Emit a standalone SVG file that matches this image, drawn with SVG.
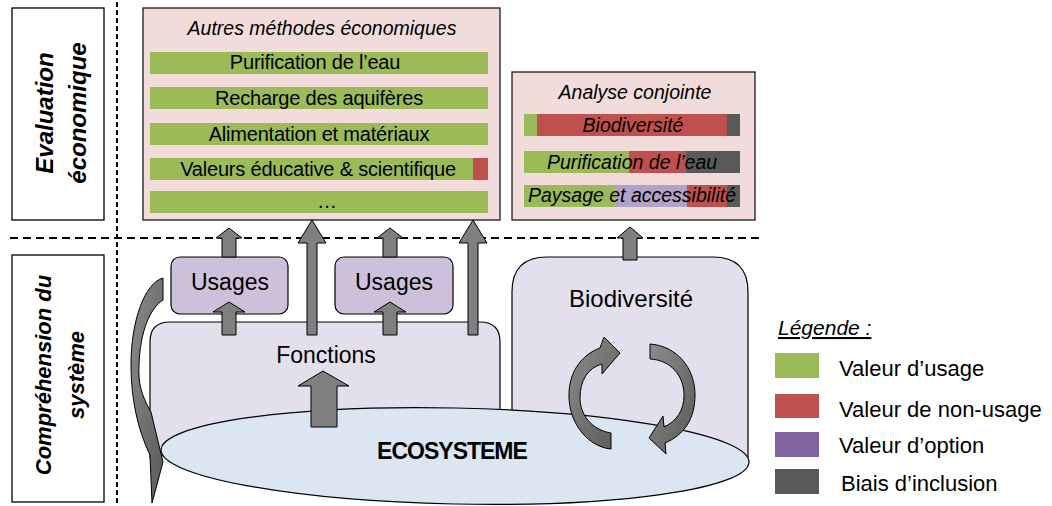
<svg xmlns="http://www.w3.org/2000/svg" width="1052" height="506" viewBox="0 0 1052 506">
<style>
text{font-family:"Liberation Sans",Arial,sans-serif;fill:#000}
.frame{fill:#fff;stroke:#000;stroke-width:1.3}
.pink{fill:#f2dcdb;stroke:#1a1a1a;stroke-width:1.3}
.lav{fill:#e4dfec;stroke:#000;stroke-width:1.2}
.use{fill:#ccc0da;stroke:#000;stroke-width:1.2}
.eco{fill:#dce6f2;stroke:#000;stroke-width:1.2}
.g{fill:#9bbb59}.r{fill:#c0504d}.p{fill:#8064a2}.d{fill:#595959}.lp{fill:#b3a2c7}
.arr{fill:#7f7f7f;stroke:#000;stroke-width:1}
.carr{fill:url(#cg);stroke:#000;stroke-width:1}
.bar{font-size:20px;text-anchor:middle;letter-spacing:-0.2px}
.bi{font-size:19.5px;text-anchor:middle;font-style:italic}
.rot{font-size:23px;font-weight:bold;font-style:italic;text-anchor:middle}
.lg{font-size:22px}
.dash{fill:none;stroke:#000;stroke-width:2}
</style>
<defs>
<linearGradient id="cg" x1="0" y1="0" x2="1" y2="1">
<stop offset="0" stop-color="#8c8c8c"/>
<stop offset="1" stop-color="#5a5a5a"/>
</linearGradient>
</defs>

<g id="separators">
<line class="dash" x1="117" y1="2" x2="117" y2="504" stroke-dasharray="5,3"/>
<line class="dash" x1="10" y1="238" x2="760" y2="238" stroke-dasharray="8,5"/>
</g>

<g id="label-eval">
<rect class="frame" x="12" y="8" width="92" height="212"/>
<text class="rot" style="font-size:24px" transform="translate(58,113) rotate(-90)"><tspan x="0" y="-5">Evaluation</tspan><tspan x="0" y="28">économique</tspan></text>
</g>

<g id="label-comp">
<rect class="frame" x="12" y="255" width="92" height="247"/>
<text class="rot" style="font-size:22px" transform="translate(58,375) rotate(-90)"><tspan x="0" y="-7">Compréhension du</tspan><tspan x="0" y="26">système</tspan></text>
</g>

<g id="autres-methodes">
<rect class="pink" x="143" y="8" width="357" height="212"/>
<text class="bi" x="322" y="35">Autres méthodes économiques</text>
<rect class="g" x="150" y="52" width="338" height="22"/>
<text class="bar" x="315" y="69">Purification de l’eau</text>
<rect class="g" x="150" y="87" width="338" height="22"/>
<text class="bar" x="319" y="105">Recharge des aquifères</text>
<rect class="g" x="150" y="123" width="338" height="22"/>
<text class="bar" x="319" y="141">Alimentation et matériaux</text>
<rect class="g" x="150" y="158" width="338" height="22"/>
<rect class="r" x="473" y="158" width="15" height="22"/>
<text class="bar" x="318" y="176">Valeurs éducative &amp; scientifique</text>
<rect class="g" x="150" y="191" width="338" height="22"/>
<text class="bar" x="327" y="208">…</text>
</g>

<g id="analyse-conjointe">
<rect class="pink" x="512" y="72" width="243" height="148"/>
<text class="bi" x="635" y="99">Analyse conjointe</text>
<rect class="g" x="524" y="114" width="13" height="22"/>
<rect class="r" x="537" y="114" width="190" height="22"/>
<rect class="d" x="727" y="114" width="13" height="22"/>
<text class="bi" x="633" y="132">Biodiversité</text>
<rect class="g" x="524" y="151" width="105" height="22"/>
<rect class="r" x="629" y="151" width="57" height="22"/>
<rect class="d" x="686" y="151" width="54" height="22"/>
<text class="bi" x="632" y="169">Purification de l’eau</text>
<rect class="g" x="524" y="185" width="91" height="22"/>
<rect class="lp" x="615" y="185" width="72" height="22"/>
<rect class="r" x="687" y="185" width="40" height="22"/>
<rect class="d" x="727" y="185" width="13" height="22"/>
<text class="bi" x="632" y="202">Paysage et accessibilité</text>
</g>

<g id="fonctions">
<path class="lav" d="M150 458 V342 Q150 322 170 322 H480 Q500 322 500 342 V458"/>
<text x="326" y="363" style="font-size:23px;text-anchor:middle">Fonctions</text>
</g>

<g id="biodiversite">
<path class="lav" d="M512 458 V292 Q512 257 547 257 H713 Q748 257 748 292 V458"/>
<text x="631" y="307" style="font-size:24px;text-anchor:middle">Biodiversité</text>
</g>

<g id="ecosysteme">
<ellipse class="eco" cx="455" cy="456" rx="294" ry="48" transform="rotate(1.2 455 456)"/>
<text x="452" y="459" style="font-size:23px;font-weight:bold;letter-spacing:-1px;text-anchor:middle">ECOSYSTEME</text>
</g>

<g id="usages-1">
<rect class="use" x="171" y="257" width="117" height="57" rx="9"/>
<text x="230" y="290" style="font-size:23px;text-anchor:middle">Usages</text>
</g>

<g id="usages-2">
<rect class="use" x="335" y="257" width="118" height="57" rx="9"/>
<text x="394" y="290" style="font-size:23px;text-anchor:middle">Usages</text>
</g>

<g id="connectors">
<path class="arr" d="M222 257 V238 H216 L229 228 L242 238 H236 V257 Z"/>
<path class="arr" d="M383 257 V238 H377 L390 228 L403 238 H397 V257 Z"/>
<path class="arr" d="M222 335 V312 H213 L229 302 L245 312 H236 V335 Z"/>
<path class="arr" d="M383 335 V312 H374 L390 302 L406 312 H397 V335 Z"/>
<path class="arr" d="M307 335 V243 H298 L312 220 L326 243 H317 V335 Z"/>
<path class="arr" d="M468 335 V243 H459 L473 220 L487 243 H478 V335 Z"/>
<path class="arr" d="M311 427 V386 H298 L323 371 L349 386 H337 V427 Z"/>
<path class="arr" d="M623 260 V238 H617 L630 227 L643 238 H637 V260 Z"/>
<path class="carr" d="M163 278 C145 283 131 320 131 365 C131 400 138 430 150 455 L152 503 L163 462 L151 412 C141 395 138 382 139 365 C140 332 150 308 163 300 Z"/>
<path class="carr" d="M611 449 C589 447 570 425 569 398 C568 373 581 355 600 348 L604 337 L620 353 L602 374 L602 364 C588 368 580 380 580 398 C580 415 592 430 611 433 Z"/>
<path class="carr" d="M650 344 C677 346 695 368 695 395 C695 419 684 435 665 443 L666 454 L649 438 L663 416 L664 427 C677 421 684 410 684 395 C684 375 670 360 650 359 Z"/>
</g>

<g id="legende">
<text x="778" y="335" style="font-size:21px;font-style:italic;text-decoration:underline">Légende :</text>
<rect class="g" x="775" y="353" width="44" height="25"/>
<text class="lg" x="839" y="376">Valeur d’usage</text>
<rect class="r" x="775" y="394" width="44" height="24"/>
<text class="lg" x="839" y="417">Valeur de non-usage</text>
<rect class="p" x="775" y="432" width="44" height="25"/>
<text class="lg" x="839" y="453">Valeur d’option</text>
<rect class="d" x="775" y="469" width="44" height="25"/>
<text class="lg" x="841" y="491">Biais d’inclusion</text>
</g>
</svg>
